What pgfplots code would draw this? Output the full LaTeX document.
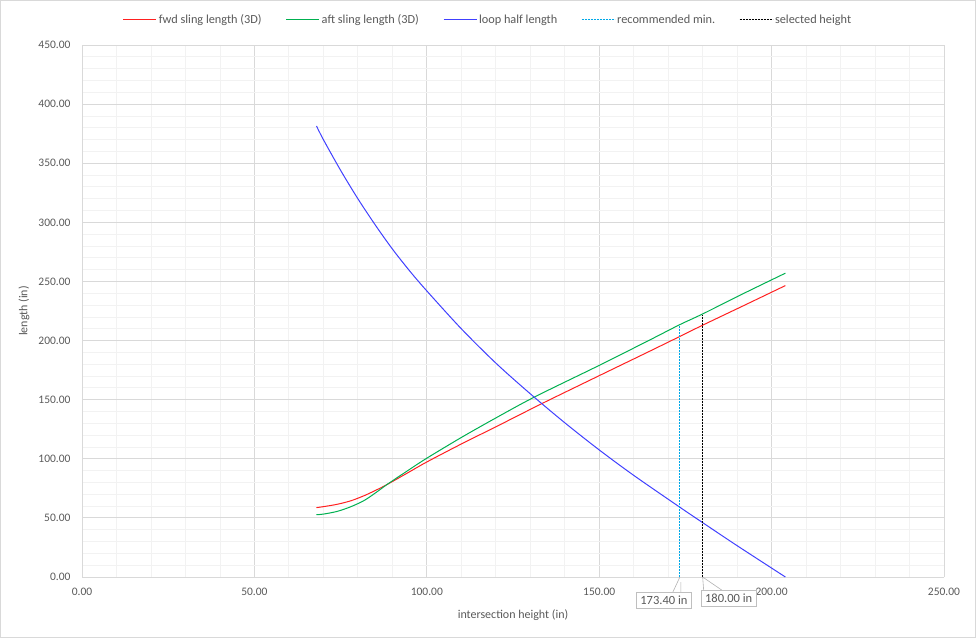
\documentclass[border=0pt]{standalone}
\usepackage{fontspec}
\setmainfont{Carlito}
\usepackage{pgfplots}
\pgfplotsset{compat=1.18}
\definecolor{txt}{HTML}{595959}
\definecolor{majg}{HTML}{D9D9D9}
\definecolor{ming}{HTML}{F2F2F2}
\definecolor{cred}{HTML}{FF2020}
\definecolor{cgreen}{HTML}{00B050}
\definecolor{cblue}{HTML}{4040FF}
\definecolor{ccyan}{HTML}{00A8E8}
\begin{document}
\begin{tikzpicture}[x=1pt,y=1pt]
\useasboundingbox (0,0) rectangle (976,638);
\draw[majg,line width=0.8pt] (0.5,0.5) rectangle (975.5,637.5);
\begin{axis}[
  at={(82pt,61pt)}, anchor=south west,
  scale only axis, width=862pt, height=532pt,
  xmin=0, xmax=250, ymin=0, ymax=450,
  clip=false,
  xtick={0,50,...,250}, ytick={0,50,...,450},
  minor x tick num=4, minor y tick num=4,
  grid=both,
  major grid style={majg, line width=0.8pt},
  minor grid style={ming, line width=0.8pt},
  major tick length=0pt, minor tick length=0pt,
  axis lines*=left,
  axis line style={majg, line width=0.8pt, -},
  tick label style={font=\fontsize{11.5}{13}\selectfont, text=txt},
  /pgf/number format/.cd, fixed, fixed zerofill, precision=2, assume math mode=true,
  /pgfplots/.cd,
  xticklabel style={yshift=-7pt},
  yticklabel style={xshift=-8pt},
  xlabel={intersection height (in)},
  ylabel={length (in)},
  label style={font=\fontsize{12}{14}\selectfont, text=txt},
  xlabel style={yshift=-8pt},
  ylabel style={yshift=2pt},
  legend style={at={(0.5,1.0)}, anchor=south, xshift=-25pt, yshift=16pt, draw=none, fill=none,
    font=\fontsize{12.3}{14}\selectfont,
    /tikz/every even column/.append style={column sep=22pt}},
  legend columns=-1,
  legend image code/.code={\draw[#1] (0pt,0pt) -- (33pt,0pt);},
]
\addplot[cred, line width=1pt, smooth, tension=0.5] coordinates {
 (68,58.7) (70,59.5) (74,61.5) (78,64.5) (82,69) (86,74.5) (88,77.5) (90,80.7) (95,89) (100,97.3)
 (110,112.5) (120,127) (133.6,147) (150,170.3) (165,191.5) (173.4,203.5) (180,213) (192,229.7) (204,246.5)};
\addlegendentry{\textcolor{txt}{fwd sling length (3D)}}
\addplot[cgreen, line width=1pt, smooth, tension=0.5] coordinates {
 (68,52.7) (70,53.2) (74,55.5) (78,59.5) (82,65) (86,73) (88,77.3) (90,81.3) (95,91) (100,100.5)
 (110,118) (120,134.5) (131.4,152.5) (150,179) (165,201) (173.4,213.5) (180,222.5) (192,240) (204,257)};
\addlegendentry{\textcolor{txt}{aft sling length (3D)}}
\addplot[cblue, line width=1pt, smooth, tension=0.5] coordinates {
 (68,381.5) (70,370) (75,344) (80,320) (85,298) (90,277.5) (95,259) (100,242)
 (110,210) (120,181) (130,155) (140,130.5) (150,107.5) (160,86) (173.4,59) (180,46) (190,26.5) (204,0)};
\addlegendentry{\textcolor{txt}{loop half length}}
\addplot[ccyan, line width=0.8pt, dash pattern=on 2pt off 1pt] coordinates {(173.4,0) (173.4,213)};
\addlegendentry{\textcolor{txt}{recommended min.}}
\addplot[black, line width=0.8pt, dash pattern=on 2pt off 1pt] coordinates {(180,0) (180,222)};
\addlegendentry{\textcolor{txt}{selected height}}
\draw[gray!60, line width=0.6pt] (axis cs:173.4,0) -- ++(-7pt,-15pt) (axis cs:173.4,0) ++(1pt,-5pt) -- ++(0pt,-10pt);
\draw[gray!60, line width=0.6pt] (axis cs:180,0) -- ++(19pt,-13pt) (axis cs:180,0) -- ++(1pt,-13pt);
\node[draw=gray!50, fill=white, text=txt, font=\fontsize{12.5}{14}\selectfont, inner xsep=4pt, inner ysep=3.5pt, anchor=north]
  at ([xshift=-16pt,yshift=-15pt]axis cs:173.4,0) {173.40 in};
\node[draw=gray!50, fill=white, text=txt, font=\fontsize{12.5}{14}\selectfont, inner xsep=4pt, inner ysep=3.5pt, anchor=north]
  at ([xshift=26pt,yshift=-13pt]axis cs:180,0) {180.00 in};
\end{axis}
\end{tikzpicture}
\end{document}
